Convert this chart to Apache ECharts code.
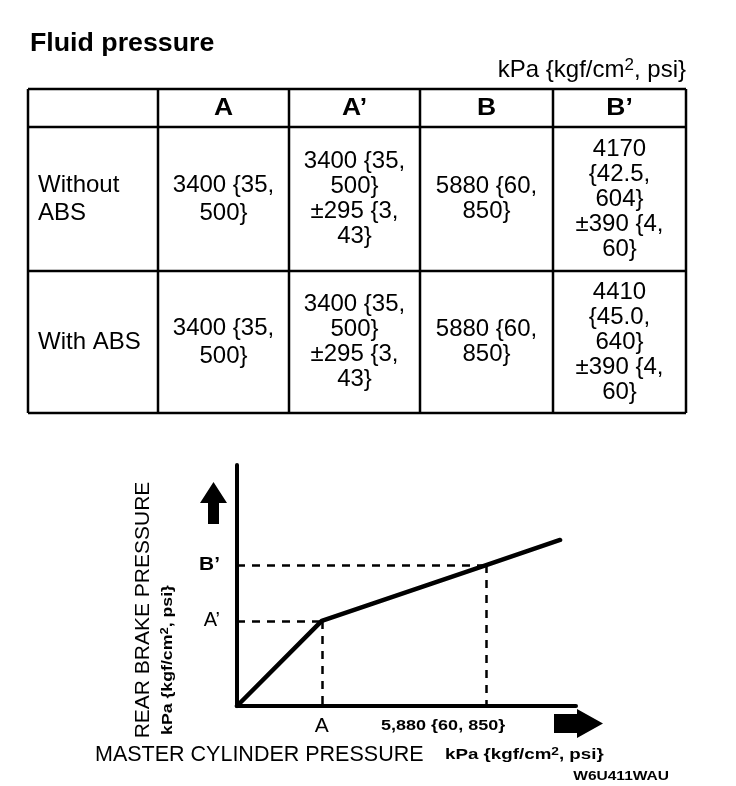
<!DOCTYPE html>
<html>
<head>
<meta charset="utf-8">
<script src="https://cdn.jsdelivr.net/npm/echarts@6/dist/echarts.min.js"></script>
<style>
  html, body { margin: 0; padding: 0; background: #fff; }
  #main { width: 736px; height: 786px; }
</style>
</head>
<body>
<div id="main"></div>
<script>
// table data
const title = 'Fluid pressure'
const unitParts = ['kPa {kgf/cm', '2', ', psi}']  // base, superscript, rest
const columns = ['A', 'A’', 'B', 'B’']
const rowNames = ['Without\nABS', 'With ABS']
const withoutAbs = ['3400 {35,\n500}', '3400 {35,\n500}\n±295 {3,\n43}', '5880 {60,\n850}', '4170\n{42.5,\n604}\n±390 {4,\n60}']
const withAbs = ['3400 {35,\n500}', '3400 {35,\n500}\n±295 {3,\n43}', '5880 {60,\n850}', '4410\n{45.0,\n640}\n±390 {4,\n60}']
const tableRows = [withoutAbs, withAbs]

// diagram (schematic, not to scale): origin, A, B, end of line
const masterPos = [0, 25, 73.5, 95.3]
const rearPos = [0, 35.3, 58.5, 68.9]
const xLabels = ['A', '5,880 {60, 850}']
const yLabels = ['A’', 'B’']
const xTitle = 'MASTER CYLINDER PRESSURE'
const yTitle = 'REAR BRAKE PRESSURE'
const figCode = 'W6U411WAU'

const FONT = '"Liberation Sans", Arial, Helvetica, sans-serif'

const chart = echarts.init(document.getElementById('main'), null, { renderer: 'canvas' })

/**
 * unit text with a real superscript, as rich text
 * the closing brace stays outside the rich tokens
 */
function unitText(size, weight) {
  const f = (weight || 'normal') + ' ' + size + 'px ' + FONT
  const ss = Math.round(size * 0.7)
  const fs = (weight || 'normal') + ' ' + ss + 'px ' + FONT
  const rest = unitParts[2].slice(0, -1)
  return {
    text: '{a|' + unitParts[0] + '}{s|' + unitParts[1] + '}{a|' + rest + '}}',
    font: f,
    fill: '#000',
    rich: {
      a: { font: f, fill: '#000', lineHeight: size + 2 },
      s: { font: fs, fill: '#000', lineHeight: ss, verticalAlign: 'top' }
    }
  }
}

// table layout
const colEdges = [28, 158, 289, 420, 553, 686]
const rowEdges = [89, 127, 271, 413]
const colLineHeight = [28, 28, 25, 25, 25]

function tableGraphics() {
  const g = []
  const lw = 2.5
  colEdges.forEach(x => g.push({
    type: 'line', shape: { x1: x, y1: rowEdges[0], x2: x, y2: rowEdges[rowEdges.length - 1] },
    style: { stroke: '#000', lineWidth: lw }
  }))
  rowEdges.forEach(y => g.push({
    type: 'line', shape: { x1: colEdges[0], y1: y, x2: colEdges[colEdges.length - 1], y2: y },
    style: { stroke: '#000', lineWidth: lw }
  }))
  // header
  columns.forEach((c, i) => g.push({
    type: 'text', x: (colEdges[i + 1] + colEdges[i + 2]) / 2, y: (rowEdges[0] + rowEdges[1]) / 2 + 1, scaleX: 1.15,
    style: { text: c, font: 'bold 23px ' + FONT, fill: '#000', align: 'center', verticalAlign: 'middle' }
  }))
  tableRows.forEach((row, r) => {
    const cy = (rowEdges[r + 1] + rowEdges[r + 2]) / 2
    g.push({
      type: 'text', x: colEdges[0] + 10, y: cy,
      style: { text: rowNames[r], font: '24px ' + FONT, fill: '#000', align: 'left', verticalAlign: 'middle', lineHeight: colLineHeight[0] }
    })
    row.forEach((v, i) => g.push({
      type: 'text', x: (colEdges[i + 1] + colEdges[i + 2]) / 2, y: cy,
      style: { text: v, font: '24px ' + FONT, fill: '#000', align: 'center', verticalAlign: 'middle', lineHeight: colLineHeight[i + 1] }
    }))
  })
  g.push({
    type: 'text', x: 30, y: 44, scaleX: 1.07,
    style: { text: title, font: 'bold 25px ' + FONT, fill: '#000', align: 'left', verticalAlign: 'middle' }
  })
  g.push({
    type: 'text', x: colEdges[colEdges.length - 1], y: 70,
    style: Object.assign(unitText(24), { align: 'right', verticalAlign: 'middle' })
  })
  return g
}

const grid = { left: 237, top: 465, width: 339, height: 241 }

chart.setOption({
  animation: false,
  backgroundColor: '#fff',
  grid: grid,
  xAxis: {
    type: 'value', min: 0, max: 100,
    axisLine: { show: true, onZero: false, lineStyle: { color: '#000', width: 4 } },
    axisTick: { show: false }, axisLabel: { show: false }, splitLine: { show: false }
  },
  yAxis: {
    type: 'value', min: 0, max: 100,
    axisLine: { show: true, onZero: false, lineStyle: { color: '#000', width: 4 } },
    axisTick: { show: false }, axisLabel: { show: false }, splitLine: { show: false }
  },
  series: [{
    type: 'line',
    data: masterPos.map((x, i) => [x, rearPos[i]]),
    showSymbol: false,
    lineStyle: { color: '#000', width: 4.5, join: 'round', cap: 'round' },
    markLine: {
      silent: true,
      symbol: 'none',
      label: { show: false },
      lineStyle: { color: '#000', width: 2.5, type: [8, 7] },
      data: [
        [{ coord: [0, rearPos[1]] }, { coord: [masterPos[1], rearPos[1]] }],
        [{ coord: [masterPos[1], rearPos[1]] }, { coord: [masterPos[1], 0] }],
        [{ coord: [0, rearPos[2]] }, { coord: [masterPos[2], rearPos[2]] }],
        [{ coord: [masterPos[2], rearPos[2]] }, { coord: [masterPos[2], 0] }]
      ]
    }
  }]
})

// annotations placed from the grid scale
const toPx = p => chart.convertToPixel({ gridIndex: 0 }, p)
const pA = toPx([masterPos[1], 0])
const pB = toPx([masterPos[2], 0])
const pA2 = toPx([0, rearPos[1]])
const pB2 = toPx([0, rearPos[2]])
const x0 = grid.left, y0 = grid.top + grid.height
const xEnd = grid.left + grid.width

const diagram = [
  { type: 'text', x: pA[0], y: y0 + 20, style: { text: xLabels[0], font: '21px ' + FONT, fill: '#000', align: 'center', verticalAlign: 'middle' } },
  { type: 'text', x: pB[0] + 19, y: y0 + 20, scaleX: 1.2, style: { text: xLabels[1], font: 'bold 15px ' + FONT, fill: '#000', align: 'right', verticalAlign: 'middle' } },
  { type: 'text', x: pA2[0] - 17, y: pA2[1], style: { text: yLabels[0], font: '20px ' + FONT, fill: '#000', align: 'right', verticalAlign: 'middle' } },
  { type: 'text', x: pB2[0] - 17, y: pB2[1], scaleX: 1.1, style: { text: yLabels[1], font: 'bold 19px ' + FONT, fill: '#000', align: 'right', verticalAlign: 'middle' } },
  { type: 'text', x: 143, y: 610, rotation: Math.PI / 2, style: { text: yTitle, font: '21px ' + FONT, fill: '#000', align: 'center', verticalAlign: 'middle' } },
  { type: 'text', x: 168, y: 660, rotation: Math.PI / 2, scaleX: 1.18, style: Object.assign(unitText(15, 'bold'), { align: 'center', verticalAlign: 'middle' }) },
  { type: 'text', x: 95, y: 755, style: { text: xTitle, font: '21.5px ' + FONT, fill: '#000', align: 'left', verticalAlign: 'middle' } },
  { type: 'text', x: 445, y: 755, scaleX: 1.25, style: Object.assign(unitText(15, 'bold'), { align: 'left', verticalAlign: 'middle' }) },
  { type: 'text', x: 669, y: 776, scaleX: 1.15, style: { text: figCode, font: 'bold 13.5px ' + FONT, fill: '#000', align: 'right', verticalAlign: 'middle' } },
  // up arrow
  { type: 'polygon', shape: { points: [[x0 - 29, y0 - 182], [x0 - 18, y0 - 182], [x0 - 18, y0 - 203], [x0 - 10, y0 - 203], [x0 - 23.5, y0 - 224], [x0 - 37, y0 - 203], [x0 - 29, y0 - 203]] }, style: { fill: '#000' } },
  // right arrow
  { type: 'polygon', shape: { points: [[xEnd - 22, y0 + 8], [xEnd + 1, y0 + 8], [xEnd + 1, y0 + 3], [xEnd + 27, y0 + 17.5], [xEnd + 1, y0 + 32], [xEnd + 1, y0 + 27], [xEnd - 22, y0 + 27]] }, style: { fill: '#000' } }
]

chart.setOption({ graphic: tableGraphics().concat(diagram) })
</script>
</body>
</html>
